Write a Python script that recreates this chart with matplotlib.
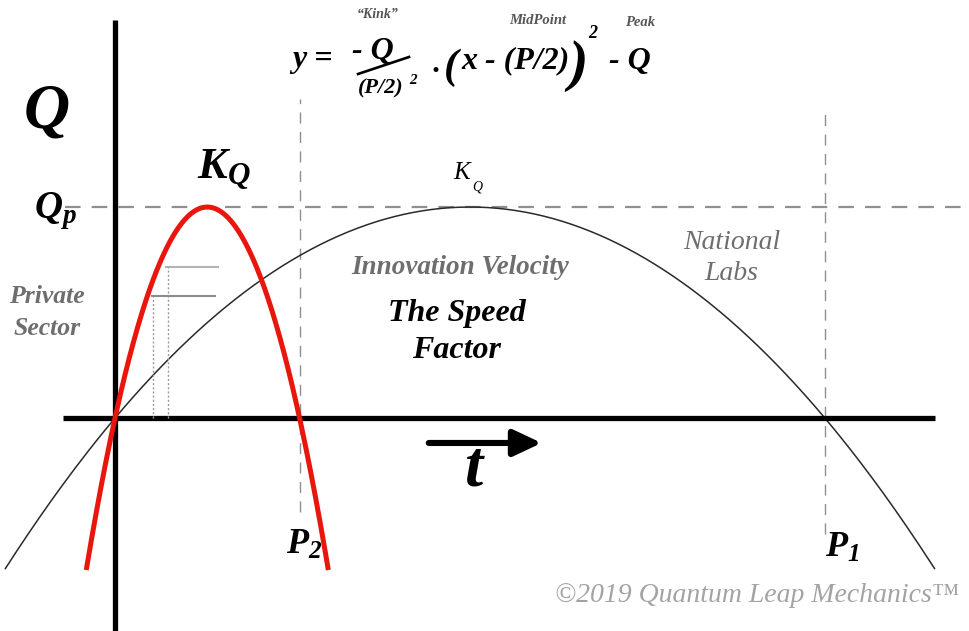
"""
Speed-factor parabola sketch: two quadratic innovation curves with shared peak Q.
Writes out.png (969 x 631 px).
"""

import numpy as np
import matplotlib
matplotlib.use("Agg")
import matplotlib.pyplot as plt

# ── data ──────────────────────────────────────────────────────────────────────
# y = -Q/(P/2)^2 * (x - P/2)^2 + Q   (the formula printed on the chart)
Q_PEAK = 1.0
P_VALUES = [10.0, 2.6]              # P1 (national labs), P2 (private sector)
CURVE_NAMES = ["National Labs", "Private Sector"]
X_RANGES = [(-1.55, 11.55), (-0.405, 3.005)]

# dashed guide extents (data units)
P_GUIDE_SPANS = [(-0.55, 1.44), (-0.445, 1.51)]   # for P1, P2
QP_SPAN = (-0.70, 12.1)

# little grey marks on the rising edge of the red curve
MARK_Y = [0.716, 0.578]
MARK_X0 = [0.72, 0.52]
MARK_X1 = [1.45, 1.41]
MARK_COLORS = ["#b4b4b4", "#8c8c8c"]

# ── style ─────────────────────────────────────────────────────────────────────
C_RED = "#e8160c"
C_BLACK = "#2a2a2a"
C_GUIDE = "#8f8f8f"
C_GREY_TXT = "#6e6e6e"
C_COPY = "#a3a3a3"
SERIF = "Liberation Serif"

plt.rcParams["mathtext.fontset"] = "custom"
plt.rcParams["mathtext.it"] = "Liberation Serif:italic:bold"
plt.rcParams["mathtext.rm"] = "Liberation Serif:italic:bold"
plt.rcParams["mathtext.bf"] = "Liberation Serif:bold:italic"

W, H = 969, 631
fig = plt.figure(figsize=(W / 100, H / 100), dpi=100)
ax = fig.add_axes([0, 0, 1, 1])
ax.set_xlim(-1.62, 12.03)
ax.set_ylim(-1.009, 1.981)
ax.axis("off")


def fpos(x, y):
    """pixel position (from top-left) -> figure fraction"""
    return x / W, 1 - y / H


def txt(x, y, s, size, color="black", weight="bold", style="italic", **kw):
    fx, fy = fpos(x, y)
    fig.text(fx, fy, s, fontsize=size, color=color, family=SERIF,
             weight=weight, style=style, ha="center", va="center", **kw)


# ── guides ────────────────────────────────────────────────────────────────────
ax.plot(QP_SPAN, [Q_PEAK, Q_PEAK], color=C_GUIDE, lw=1.6,
        dashes=(7, 5), zorder=1)
for p, (y0, y1) in zip(P_VALUES, P_GUIDE_SPANS):
    ax.plot([p, p], [y0, y1], color=C_GUIDE, lw=1.0, dashes=(8, 6), zorder=1)

# ── axes lines ────────────────────────────────────────────────────────────────
ax.plot([-0.73, 11.55], [0, 0], color="black", lw=3.8, solid_capstyle="butt", zorder=3)
ax.plot([0, 0], [-1.02, 1.886], color="black", lw=3.8, solid_capstyle="butt", zorder=3)

# ── curves ────────────────────────────────────────────────────────────────────
styles = [dict(color=C_BLACK, lw=1.1, zorder=2), dict(color=C_RED, lw=3.6, zorder=4)]
for p, (x0, x1), st in zip(P_VALUES, X_RANGES, styles):
    x = np.linspace(x0, x1, 400)
    y = -Q_PEAK / (p / 2) ** 2 * (x - p / 2) ** 2 + Q_PEAK
    ax.plot(x, y, solid_capstyle="butt", **st)

# grey marks and dotted drop lines
for y, x0, x1, c in zip(MARK_Y, MARK_X0, MARK_X1, MARK_COLORS):
    ax.plot([x0, x1], [y, y], color=c, lw=1.5, zorder=3)
    ax.plot([x0 + 0.02, x0 + 0.02], [0, y], color="#9a9a9a", lw=1.0,
            ls=(0, (1.5, 1.5)), zorder=3)

# time arrow
ax.annotate("", xy=(6.01, -0.118), xytext=(4.42, -0.118),
            arrowprops=dict(arrowstyle="-|>,head_length=1.7,head_width=0.8",
                            lw=4.4, color="black", shrinkA=0, shrinkB=0))

# ── labels ────────────────────────────────────────────────────────────────────
txt(47, 112, "Q", 46)
txt(55, 211, r"$Q_p$", 28)
txt(224, 170, r"$K_Q$", 32)
txt(462, 173, "K", 18, weight="normal")
txt(477, 187, "Q", 10, weight="normal")
txt(460, 268, "Innovation Velocity", 19.5, color=C_GREY_TXT)
txt(457, 313, "The Speed", 23)
txt(457, 350, "Factor", 23)
txt(732, 243, "National", 20, color=C_GREY_TXT, weight="normal")
txt(731, 274, "Labs", 20, color=C_GREY_TXT, weight="normal")
txt(47, 297, "Private", 18.5, color=C_GREY_TXT)
txt(47, 329, "Sector", 18.5, color=C_GREY_TXT)
txt(473, 469, "t", 47)
txt(304, 545, r"$P_2$", 26)
txt(842, 548, r"$P_1$", 26)
txt(757, 596, "\u00a92019 Quantum Leap Mechanics\u2122", 20,
    color=C_COPY, weight="normal")

# equation at the top, set piece by piece (pixel positions)
txt(312, 60, "y =", 23)
txt(373, 51, "- Q", 23)
fx0, fy0 = fpos(358, 74)
fx1, fy1 = fpos(409, 57)
fig.add_artist(plt.Line2D([fx0, fx1], [fy0, fy1], color="black", lw=1.9))
txt(381, 88, "(P/2)", 16)
txt(413, 80, "2", 11)
txt(435, 72, "\u00b7", 22)
txt(451, 68, "(", 31)
txt(516, 61, "x - (P/2)", 23)
txt(578, 66, ")", 42)
txt(593, 33, "2", 13)
txt(630, 62, "- Q", 23)
txt(378, 15, "\u201cKink\u201d", 10, color="#555555")
txt(538, 20, "MidPoint", 10.5, color="#555555")
txt(640, 22, "Peak", 10.5, color="#555555")

fig.savefig("out.png", dpi=100)
